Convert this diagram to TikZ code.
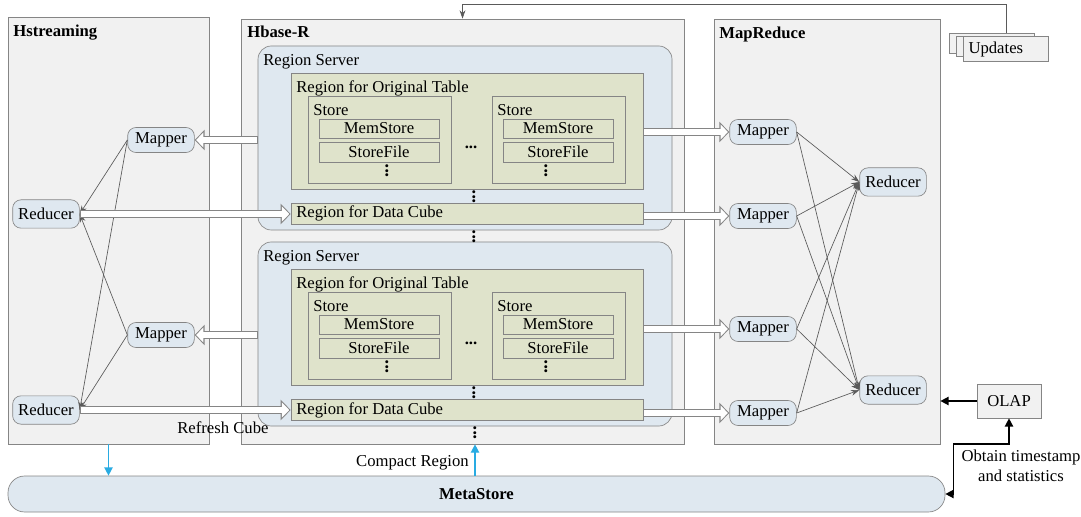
\documentclass[tikz,border=0pt]{standalone}
\usepackage{fontspec}
\setmainfont{Liberation Serif}
\usetikzlibrary{arrows.meta,fit}
\definecolor{panelgray}{HTML}{F1F1F1}
\definecolor{linegray}{HTML}{858585}
\definecolor{serverblue}{HTML}{DFE8F0}
\definecolor{regiongreen}{HTML}{DFE3CB}
\definecolor{wiregray}{HTML}{5A5A5A}
\definecolor{feedblue}{HTML}{29ABE2}
\begin{document}
\begin{tikzpicture}[x=0.6pt, y=-0.6pt,
  panel/.style={draw=linegray, fill=panelgray, inner sep=0pt},
  server/.style={draw=linegray, fill=serverblue, rounded corners=8pt, inner sep=0pt},
  region/.style={draw=linegray, fill=regiongreen, inner sep=0pt},
  tag/.style={anchor=base west, inner sep=0pt},
  title/.style={tag, font=\bfseries},
  proc/.style={draw=linegray, fill=serverblue, rounded corners=5pt, minimum width=40pt, minimum height=15pt, inner sep=1pt},
  reducer/.style={proc, minimum height=17pt},
  dots/.style={inner sep=0pt, font=\bfseries},
  vdots/.style={dots, rotate=90, font=\bfseries\fontsize{11}{11}\selectfont},
  doc/.style={draw=linegray, fill=panelgray, text width=45pt, inner sep=3pt, minimum height=12pt},
  link/.style={draw=wiregray, -{Stealth[length=5pt,width=3.5pt]}},
  hollow/.style={draw=linegray, line width=4.6pt, -{Triangle[length=6pt,width=12pt]},
    postaction={draw=white, line width=3.4pt, -{Triangle[length=4.4pt,width=8.8pt]}, shorten >=0.85pt, shorten <=0.6pt}},
  feed/.style={draw=feedblue, line width=0.8pt, -{Triangle[length=5pt,width=5pt]}},
  probe/.style={draw=black, line width=0.9pt, -{Triangle[length=5pt,width=5pt]}}]
  \useasboundingbox (0,0) rectangle (1081,517);

  % three systems
  \node[panel, fit={(8,17) (209,444)}] (hs) {};
  \node[panel, fit={(241,19) (684,444)}] (hb) {};
  \node[panel, fit={(714,19) (940,444)}] (mr) {};
  \node[title] at (13,37) {Hstreaming};
  \node[title] at (247,38) {Hbase-R};
  \node[title] at (719,39) {MapReduce};

  % region servers
  \foreach \s/\dy in {1/0, 2/196} {
    \node[server, fit={(258,46+\dy) (672,230+\dy)}] (rs\s) {};
    \node[tag] at (263,66+\dy) {Region Server};
    \node[region, fit={(291,73+\dy) (643,189+\dy)}] (ot\s) {};
    \node[tag] at (296,93+\dy) {Region for Original Table};
    \foreach \t/\xa/\xb/\xd in {a/308/451/387, b/492/625/546} {
      \node[region, fit={(\xa,96+\dy) (\xb,183+\dy)}] (st\s\t) {};
      \node[tag] at (\xa+5,116+\dy) {Store};
      \node[region, fit={(\xa+11,119+\dy) (\xb-12,138+\dy)}, label=center:MemStore] (mem\s\t) {};
      \node[region, fit={(\xa+11,142+\dy) (\xb-12,162+\dy)}, label=center:StoreFile] (file\s\t) {};
      \node[vdots] at (\xd,171+\dy) {...};
    }
    \node[dots] at (471,147+\dy) {...};
    \node[vdots] at (474,197+\dy) {...};
    \node[region, fit={(291,203+\dy) (643,224+\dy)}] (dc\s) {};
    \node[tag] at (296,218+\dy) {Region for Data Cube};
  }
  \node[vdots] at (474,237) {...};
  \node[vdots] (gap) at (475,433) {...};

  % Hstreaming
  \node[proc] (hm1) at (161,140) {Mapper};
  \node[proc] (hm2) at (161,335) {Mapper};
  \node[reducer] (hr1) at (46,214) {Reducer};
  \node[reducer] (hr2) at (46,410) {Reducer};
  \foreach \m in {1,2}
    \foreach \r in {1,2}
      \draw[link] (hm\m.west) -- (hr\r.east);

  % MapReduce
  \foreach \i/\y in {1/132, 2/216, 3/329, 4/413}
    \node[proc] (mm\i) at (763,\y) {Mapper};
  \node[reducer] (mr1) at (893,182) {Reducer};
  \node[reducer] (mr2) at (893,390) {Reducer};
  \foreach \m in {1,...,4}
    \foreach \r in {1,2}
      \draw[link] (mm\m.east) -- (mr\r.west);

  % data flow between the systems
  \foreach \s/\ma/\mb in {1/1/2, 2/3/4} {
    \draw[hollow] (rs\s.west |- hm\s) -- (hm\s.east);
    \draw[hollow] (hr\s.east) -- (hr\s.east -| dc\s.west);
    \draw[hollow] (ot\s.east |- mm\ma) -- (mm\ma.west);
    \draw[hollow] (dc\s.east |- mm\mb) -- (mm\mb.west);
  }
  \node[tag] (refresh) at (177,433) {Refresh Cube};

  % updates
  \node[doc] (upd1) at (992,43) {};
  \node[doc] (upd2) at (999,46) {};
  \node[doc] (upd3) at (1006,49) {Updates};
  \draw[draw=wiregray, -{Stealth[length=5pt,width=3.5pt]}] (upd1.north -| upd3) -- ++(0,-28) -| (hb.north);

  % metastore and OLAP
  \node[panel, fill=serverblue, rounded corners=10pt, fit={(8,476) (945,512)}, label={[font=\bfseries]center:MetaStore}] (ms) {};
  \draw[feed] (hs.south) -- (hs.south |- ms.north);
  \draw[feed] (ms.north -| gap) -- (hb.south -| gap);
  \node[anchor=base east, inner sep=0pt] (compact) at (469,466) {Compact Region};
  \node[panel, minimum width=38.4pt, minimum height=20.4pt] (olap) at (1009,401) {OLAP};
  \draw[probe] (olap) -- (olap -| mr.east);
  \draw[probe, {Triangle[length=5pt,width=5pt]}-{Triangle[length=5pt,width=5pt]}] (ms.east) -| ++(8,-50) -| (olap.south);
  \node[align=center, inner sep=0pt] (obtain) at (1021,466) {Obtain timestamp\\and statistics};
\end{tikzpicture}
\end{document}
